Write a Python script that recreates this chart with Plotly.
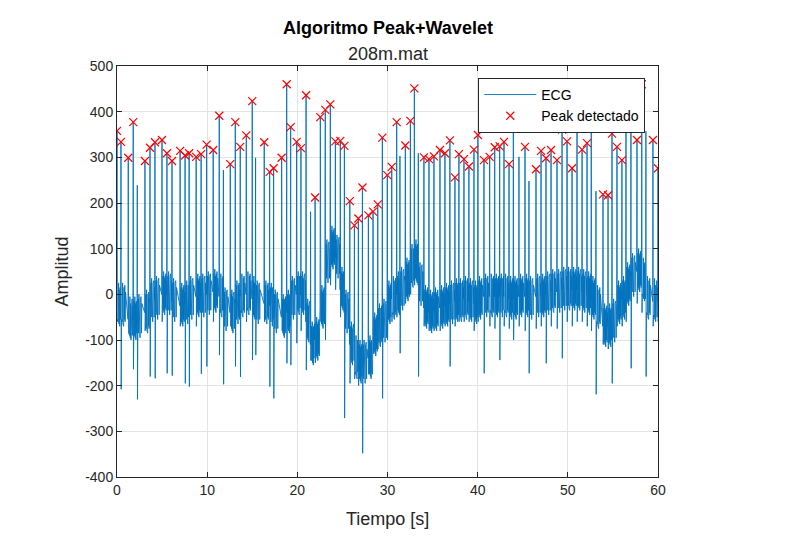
import plotly.graph_objects as go

# ---------------- data ----------------
# ECG beats: time [s], R-peak amplitude, S-trough amplitude, local baseline
beat_t = [0.0, 0.44, 1.25, 1.8, 2.25, 3.1, 3.66, 4.21, 4.99, 5.54, 6.1, 7.0, 7.55, 8.0,
          8.78, 9.33, 9.94, 10.67, 11.34, 11.8, 12.56, 13.12, 13.67, 14.34, 15.0, 15.37,
          16.33, 16.93, 17.37, 18.26, 18.82, 19.26, 19.92, 20.4, 20.97, 21.47, 21.97,
          22.55, 23.1, 23.66, 24.22, 24.77, 25.22, 25.82, 26.33, 26.77, 27.22, 27.88,
          28.4, 28.92, 29.43, 29.98, 30.47, 31.02, 31.38, 31.98, 32.54, 32.98, 33.42,
          34.04, 34.6, 35.15, 35.82, 36.37, 36.92, 37.48, 37.92, 38.48, 39.03, 39.59,
          40.03, 40.7, 41.33, 41.89, 42.44, 42.92, 43.48, 43.96, 44.58, 45.25, 45.69,
          46.47, 47.03, 47.58, 48.14, 48.8, 49.36, 49.91, 50.47, 51.02, 51.58, 52.13,
          52.6, 53.12, 53.9, 54.46, 54.9, 55.45, 56.0, 56.45, 57.0, 57.67, 58.2, 58.66,
          59.44, 60.0]
beat_r = [358, 334, 299, 377, 239, 292, 321, 333, 338, 309, 292, 314, 304, 309,
          301, 307, 328, 316, 391, 272, 285, 377, 323, 348, 423, 299,
          333, 268, 276, 299, 460, 366, 334, 320, 436, 181, 212,
          388, 404, 416, 335, 336, 325, 204, 151, 166, 234, 173,
          181, 197, 343, 261, 279, 377, 303, 326, 380, 451, 309,
          300, 296, 302, 316, 309, 337, 256, 307, 296, 280, 317,
          349, 294, 301, 322, 324, 334, 285, 430, 301, 323, 248,
          274, 314, 298, 316, 294, 361, 335, 276, 363, 317, 331,
          430, 226, 219, 217, 352, 323, 294, 430, 357, 338, 460, 357,
          338, 276]
beat_s = [-60, -208, -85, -164, -230, -80, -180, -184, -60, -173, -178, -70, -195, -202,
          -70, -174, -158, -60, -133, -197, -70, -158, -181, -60, -144, -133,
          -60, -202, -228, -70, -151, -155, -107, -80, -166, -145, -150,
          -40, -100, 20, 10, -50, -271, -195, -185, -200, -348, -175,
          -130, -120, -228, -100, -60, -50, -129, -20, 0, 20, -180,
          -70, -80, -80, -80, -70, -158, -70, -60, -60, -60, -80,
          -60, -173, -70, -75, -144, -70, -75, -100, -70, -80, -173,
          -75, -70, -151, -70, -75, -140, -60, -70, -60, -60, -70,
          -80, -219, -110, -120, -195, -70, -70, -60, -162, -20, -40, -180,
          -70, -60]
beat_base = [-25, -25, -55, -55, -50, -40, -15, -10, 0, 0, -15, -25, -20, -10,
             -5, -5, 0, 5, -5, -35, -40, -20, -5, 0, -10, -20,
             -20, -25, -40, -50, -40, -10, 0, 0, -60, -110, -100,
             -30, 70, 100, 80, 10, -40, -110, -140, -150, -150, -140,
             -90, -70, -60, -20, -10, 0, 10, 30, 60, 70, 20,
             -30, -40, -35, -30, -25, -20, -15, -15, -10, -15, -20,
             -10, -5, -5, -5, -5, -5, -10, -10, -5, -5, -10,
             -5, -5, 0, 5, 5, 10, 10, 10, 10, 5, 0,
             -10, -30, -70, -70, -60, -20, -10, 20, 40, 50, 30, -10,
             -15, -15]

# detected peaks (red crosses)
peak_t = [0.0, 0.44, 1.25, 1.8, 3.1, 3.66, 4.21, 4.99, 5.54, 6.1, 7.0, 7.55, 8.0, 8.78,
          9.33, 9.94, 10.67, 11.34, 12.56, 13.12, 13.67, 14.34, 15.0, 16.33, 16.93,
          17.37, 18.26, 18.82, 19.26, 19.92, 20.4, 20.97, 21.97, 22.55, 23.1, 23.66,
          24.22, 24.77, 25.22, 25.82, 26.33, 26.77, 27.22, 27.88, 28.4, 28.92, 29.43,
          29.98, 30.47, 31.02, 31.98, 32.54, 32.98, 34.04, 34.6, 35.15, 35.82, 36.37,
          36.92, 37.48, 37.92, 38.48, 39.03, 39.59, 40.03, 40.7, 41.33, 41.89, 42.44,
          42.92, 43.48, 43.96, 45.25, 46.47, 47.03, 47.58, 48.14, 48.8, 49.36, 49.91,
          50.47, 51.02, 51.58, 52.13, 52.6, 53.9, 54.46, 54.9, 55.45, 56.0, 56.45,
          57.67, 58.2, 59.44, 60.0]
peak_v = [358, 334, 299, 377, 292, 321, 333, 338, 309, 292, 314, 304, 309, 301,
          307, 328, 316, 391, 285, 377, 323, 348, 423, 333, 268,
          276, 299, 460, 366, 334, 320, 436, 212, 388, 404, 416,
          335, 336, 325, 204, 151, 166, 234, 173, 181, 197, 343,
          261, 279, 377, 326, 380, 451, 300, 296, 302, 316, 309,
          337, 256, 307, 296, 280, 317, 349, 294, 301, 322, 324,
          334, 285, 430, 323, 274, 314, 298, 316, 294, 361, 335,
          276, 363, 317, 331, 430, 219, 217, 352, 323, 294, 430,
          338, 460, 338, 276]

x_ticks = [0, 10, 20, 30, 40, 50, 60]
y_ticks = [-400, -300, -200, -100, 0, 100, 200, 300, 400, 500]
y_tick_labels = ["-400", "-300", "-200", "-100", "0", "100", "200", "300", "400", "500"]

# ---------------- build trace from beats (beat template = drawing style) ----------------
# (offset after R in s, kind, offset from baseline)
shape = [(0.025, "s", 0), (0.06, "b", -30), (0.10, "b", 40), (0.14, "b", -35),
         (0.18, "b", 50), (0.22, "b", -40), (0.26, "b", 35), (0.30, "b", -45),
         (0.34, "b", 40), (0.38, "b", -30), (0.42, "b", 45), (0.46, "b", -35),
         (0.50, "b", 30)]
ex, ey = [], []
for i, t in enumerate(beat_t):
    b = beat_base[i]
    nxt = beat_t[i + 1] if i + 1 < len(beat_t) else t + 1.0
    ex += [t - 0.03, t]
    ey += [b, beat_r[i]]
    for dt, kind, off in shape:
        if t + dt < nxt - 0.04:
            ex.append(t + dt)
            ey.append(beat_s[i] if kind == "s" else b + off)

AX = "#262626"
FONT = "Liberation Sans, Arial, Helvetica, sans-serif"

fig = go.Figure()
fig.add_trace(go.Scatter(x=ex, y=ey, mode="lines", name="ECG",
                         line=dict(color="#0072BD", width=0.9)))
fig.add_trace(go.Scatter(x=peak_t, y=peak_v, mode="markers", name="Peak detectado",
                         marker=dict(symbol="x-thin", size=8, line=dict(color="#FF0000", width=1.2),
                                     color="#FF0000")))

axis_common = dict(showline=True, linecolor=AX, linewidth=1, mirror="ticks",
                   ticks="inside", ticklen=5, tickcolor=AX, showgrid=True,
                   gridcolor="#E3E3E3", gridwidth=1, zeroline=False,
                   tickfont=dict(family=FONT, size=14, color=AX))

# page body adds an 8px offset; margins compensate so the axes land where the reference has them
fig.update_layout(
    width=807, height=538,
    margin=dict(l=109, r=157, t=58, b=69),
    paper_bgcolor="white", plot_bgcolor="white",
    showlegend=True,
    legend=dict(x=0.9765, xanchor="right", y=0.971, yanchor="top",
                bgcolor="white", bordercolor=AX, borderwidth=1,
                font=dict(family=FONT, size=14, color="#000000"),
                tracegroupgap=0, itemwidth=52),
    xaxis=dict(range=[0, 60], tickvals=x_ticks, **axis_common),
    yaxis=dict(range=[-400, 500], tickvals=y_ticks, ticktext=y_tick_labels, **axis_common),
    annotations=[
        dict(text="<b>Algoritmo Peak+Wavelet</b>", x=0.5, y=1.092, xref="paper", yref="paper",
             showarrow=False, xanchor="center", yanchor="middle",
             font=dict(family=FONT, size=18, color="#000000")),
        dict(text="208m.mat", x=0.5, y=1.03, xref="paper", yref="paper",
             showarrow=False, xanchor="center", yanchor="middle",
             font=dict(family=FONT, size=18, color=AX)),
        dict(text="Tiempo [s]", x=0.5, y=-0.102, xref="paper", yref="paper",
             showarrow=False, xanchor="center", yanchor="middle",
             font=dict(family=FONT, size=18, color=AX)),
        dict(text="Amplitud", x=-0.1017, y=0.5, xref="paper", yref="paper", textangle=-90,
             showarrow=False, xanchor="center", yanchor="middle",
             font=dict(family=FONT, size=18, color=AX)),
    ],
)

fig.write_html("out.html")
